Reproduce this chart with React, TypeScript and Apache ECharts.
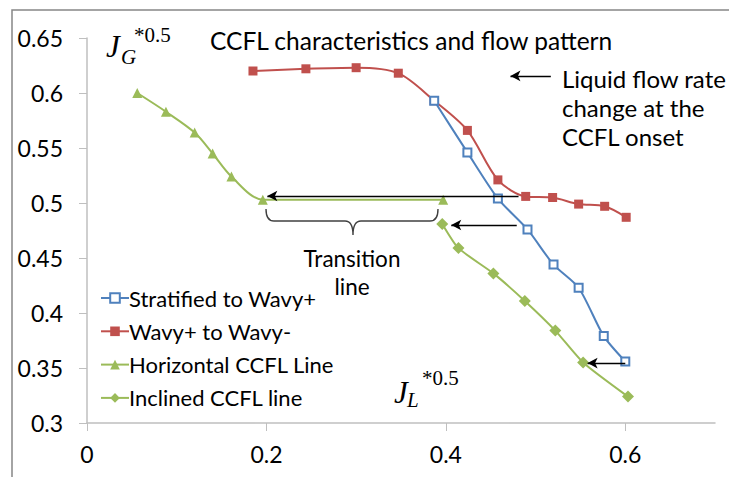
import React, { useEffect, useRef } from "react";
import * as echarts from "echarts";

const xTicks = [0, 0.2, 0.4, 0.6];
const yTicks = [0.3, 0.35, 0.4, 0.45, 0.5, 0.55, 0.6, 0.65];

const seriesNames = [
  "Stratified to Wavy+",
  "Wavy+ to Wavy-",
  "Horizontal CCFL Line",
  "Inclined CCFL line",
];

const blueX = [0.387, 0.424, 0.458, 0.491, 0.52, 0.548, 0.576, 0.6];
const blueY = [0.593, 0.546, 0.504, 0.476, 0.444, 0.423, 0.379, 0.356];

const redX = [0.185, 0.244, 0.3, 0.347, 0.387, 0.424, 0.458, 0.489, 0.519, 0.548, 0.577, 0.601];
const redY = [0.62, 0.622, 0.623, 0.618, 0.593, 0.566, 0.521, 0.506, 0.505, 0.499, 0.497, 0.487];

const horizX = [0.056, 0.088, 0.12, 0.14, 0.161, 0.196, 0.397];
const horizY = [0.6, 0.583, 0.564, 0.545, 0.524, 0.503, 0.503];

const inclX = [0.396, 0.414, 0.453, 0.488, 0.522, 0.553, 0.603];
const inclY = [0.481, 0.459, 0.436, 0.411, 0.384, 0.355, 0.324];

// annotation arrows in data units
const arrowFromX = [0.481, 0.479, 0.6, 0.517];
const arrowFromY = [0.5064, 0.48, 0.3545, 0.6155];
const arrowToX = [0.201, 0.406, 0.558, 0.472];
const arrowToY = [0.5064, 0.48, 0.3545, 0.6155];

const titleText = "CCFL characteristics and flow pattern";
const noteText = "Liquid flow rate\nchange at the\nCCFL onset";
const transitionText = "Transition\nline";

const FONT = "Lato, 'Open Sans', sans-serif";
const SERIF = "'Liberation Serif', 'DejaVu Serif', serif";

const zip = (xs: number[], ys: number[]) => xs.map((x, i) => [x, ys[i]]);

export default function App() {
  const ref = useRef<HTMLDivElement>(null);
  useEffect(() => {
    if (!ref.current) return;
    echarts.graphic.registerShape(
      "brace",
      echarts.graphic.extendPath(
        "M0,0 Q0,12 8,12 L79,12 Q87,12 87,26 Q87,12 95,12 L164,12 Q172,12 172,0",
        {}
      )
    );
    const chart = echarts.init(ref.current, null, { renderer: "svg" });
    const blue = "#4F81BD";
    const red = "#C0504D";
    const green = "#9BBB59";
    const arrowData = arrowFromX.map((_, i) => [
      { coord: [arrowFromX[i], arrowFromY[i]] },
      { coord: [arrowToX[i], arrowToY[i]] },
    ]);
    chart.setOption({
      animation: false,
      backgroundColor: "#fff",
      textStyle: { fontFamily: FONT },
      grid: { left: 87, right: 14, top: 38, bottom: 54, containLabel: false },
      legend: {
        orient: "vertical",
        left: 95,
        top: 282,
        itemWidth: 28,
        itemHeight: 12,
        itemGap: 11.3,
        data: seriesNames,
        textStyle: { fontSize: 22, lineHeight: 22, color: "#000", fontFamily: FONT, padding: [0, 0, 0, -5] },
      },
      xAxis: {
        type: "value",
        min: 0,
        max: 0.7,
        interval: 0.2,
        splitLine: { show: false },
        axisLine: { show: true, lineStyle: { color: "#BFBFBF", width: 1.5 } },
        axisTick: { show: true, length: 8, lineStyle: { color: "#BFBFBF" }, customValues: xTicks },
        axisLabel: { fontSize: 23, color: "#000", margin: 19, customValues: xTicks },
      },
      yAxis: {
        type: "value",
        min: 0.3,
        max: 0.65,
        interval: 0.05,
        splitLine: { show: false },
        axisLine: { show: true, lineStyle: { color: "#BFBFBF", width: 1.5 } },
        axisTick: { show: true, length: 8, lineStyle: { color: "#BFBFBF" }, customValues: yTicks },
        axisLabel: { fontSize: 23, color: "#000", margin: 24, customValues: yTicks },
      },
      series: [
        {
          name: seriesNames[0],
          type: "line",
          data: zip(blueX, blueY),
          smooth: 0.25,
          symbol: "emptyRect",
          symbolSize: 8,
          lineStyle: { color: blue, width: 2 },
          itemStyle: { color: blue, borderColor: blue, borderWidth: 1.5 },
          z: 3,
        },
        {
          name: seriesNames[1],
          type: "line",
          data: zip(redX, redY),
          smooth: 0.3,
          symbol: "rect",
          symbolSize: 9,
          lineStyle: { color: red, width: 2 },
          itemStyle: { color: red },
          z: 2,
          markLine: {
            silent: true,
            symbol: ["none", "arrow"],
            symbolSize: [8, 10],
            label: { show: false },
            lineStyle: { color: "#000", width: 1.3, type: "solid" },
            data: arrowData,
          },
        },
        {
          name: seriesNames[2],
          type: "line",
          data: zip(horizX, horizY),
          smooth: 0.3,
          symbol: "triangle",
          symbolSize: 10,
          lineStyle: { color: green, width: 2 },
          itemStyle: { color: green },
          z: 4,
        },
        {
          name: seriesNames[3],
          type: "line",
          data: zip(inclX, inclY),
          smooth: 0.2,
          symbol: "diamond",
          symbolSize: 12,
          lineStyle: { color: green, width: 2 },
          itemStyle: { color: green },
          z: 4,
        },
      ],
      graphic: [
        {
          type: "rect",
          silent: true,
          shape: { x: 12, y: 10, width: 800, height: 600 },
          style: { fill: "none", stroke: "#868686", lineWidth: 1.5 },
        },
        {
          type: "text",
          x: 210,
          y: 40,
          style: { text: titleText, fontSize: 24.5, fontFamily: FONT, fill: "#000", verticalAlign: "middle" },
        },
        {
          type: "text",
          x: 562,
          y: 64,
          style: { text: noteText, fontSize: 24, lineHeight: 29, fontFamily: FONT, fill: "#000", verticalAlign: "top" },
        },
        {
          type: "text",
          x: 352,
          y: 244,
          style: { text: transitionText, fontSize: 22.5, lineHeight: 28, fontFamily: FONT, fill: "#000", align: "center", verticalAlign: "top" },
        },
        {
          type: "brace",
          x: 266,
          y: 209,
          style: { fill: "none", stroke: "#404040", lineWidth: 1.4 },
        },
        { type: "text", x: 106, y: 46, style: { text: "J", fontSize: 31, fontStyle: "italic", fontFamily: SERIF, fill: "#000", verticalAlign: "middle" } },
        { type: "text", x: 121, y: 57, style: { text: "G", fontSize: 21, fontStyle: "italic", fontFamily: SERIF, fill: "#000", verticalAlign: "middle" } },
        { type: "text", x: 134, y: 35, style: { text: "*0.5", fontSize: 21, fontFamily: SERIF, fill: "#000", verticalAlign: "middle" } },
        { type: "text", x: 394, y: 392, style: { text: "J", fontSize: 31, fontStyle: "italic", fontFamily: SERIF, fill: "#000", verticalAlign: "middle" } },
        { type: "text", x: 407, y: 400, style: { text: "L", fontSize: 21, fontStyle: "italic", fontFamily: SERIF, fill: "#000", verticalAlign: "middle" } },
        { type: "text", x: 422, y: 378, style: { text: "*0.5", fontSize: 21, fontFamily: SERIF, fill: "#000", verticalAlign: "middle" } },
      ],
    });
    return () => chart.dispose();
  }, []);
  return (
    <div
      ref={ref}
      style={{ position: "fixed", left: 0, top: 0, width: 729, height: 477, background: "#fff" }}
    />
  );
}
